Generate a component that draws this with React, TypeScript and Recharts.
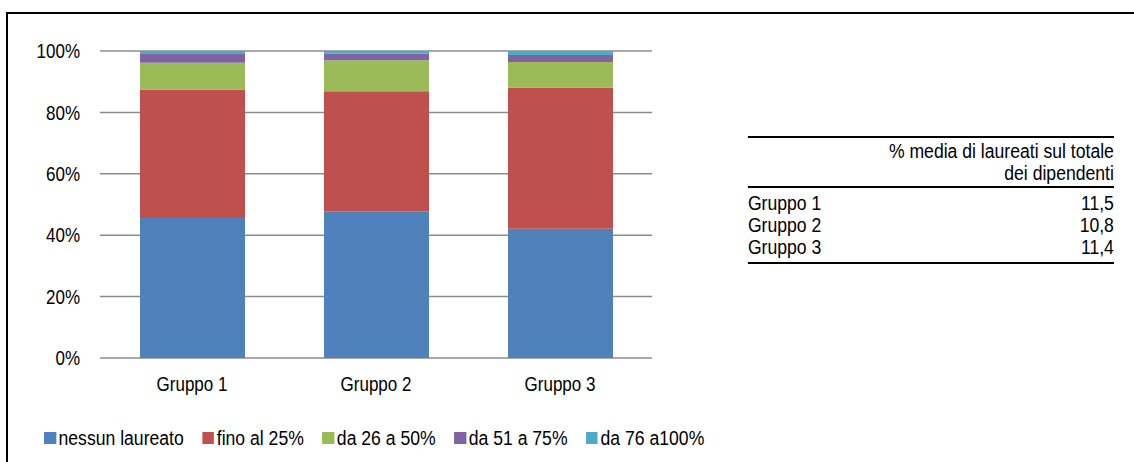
import React from 'react';
import { BarChart, Bar, XAxis, YAxis, CartesianGrid } from 'recharts';

const categories = ['Gruppo 1', 'Gruppo 2', 'Gruppo 3'];
const nessunLaureato = [45.6, 47.8, 42.1];
const finoAl25 = [41.9, 39.1, 45.9];
const da26a50 = [8.7, 10.1, 8.4];
const da51a75 = [3.1, 2.1, 2.3];
const da76a100 = [0.7, 0.9, 1.3];
const yTicks = [0, 20, 40, 60, 80, 100];

const seriesNames = ['nessun laureato', 'fino al 25%', 'da 26 a 50%', 'da 51 a 75%', 'da 76 a100%'];
const seriesKeys = ['s1', 's2', 's3', 's4', 's5'];
const seriesColors = ['#4F81BD', '#C0504D', '#9BBB59', '#8064A2', '#4BACC6'];

const tableHeader = ['% media di laureati sul totale', 'dei dipendenti'];
const tableValues = ['11,5', '10,8', '11,4'];

const data = categories.map((c, i) => ({
  name: c,
  s1: nessunLaureato[i],
  s2: finoAl25[i],
  s3: da26a50[i],
  s4: da51a75[i],
  s5: da76a100[i],
}));

const FONT = '"Liberation Sans", Arial, sans-serif';
const SX = 0.85;
const SX2 = 0.88;

const YTick = (props: any) => {
  const { x, y, payload } = props;
  return (
    <text
      x={0}
      y={0}
      transform={`translate(${x},${y}) scale(${SX},1)`}
      textAnchor="end"
      dy="0.355em"
      fill="#000"
      fontSize={20}
      fontFamily={FONT}
    >
      {`${payload.value}%`}
    </text>
  );
};

const XTick = (props: any) => {
  const { x, y, payload } = props;
  return (
    <text
      x={0}
      y={0}
      transform={`translate(${x},${y}) scale(${SX},1)`}
      textAnchor="middle"
      dy="0.71em"
      fill="#000"
      fontSize={20}
      fontFamily={FONT}
    >
      {payload.value}
    </text>
  );
};

export default function App() {
  return (
    <div
      style={{
        position: 'absolute',
        left: 0,
        top: 0,
        width: 1134,
        height: 462,
        overflow: 'hidden',
        background: '#fff',
        fontFamily: FONT,
        color: '#000',
      }}
    >
      <div
        style={{
          position: 'absolute',
          left: 6,
          top: 12,
          width: 1200,
          height: 500,
          borderLeft: '2px solid #000',
          borderTop: '2px solid #000',
        }}
      />
      <div style={{ position: 'absolute', left: 0, top: 0 }}>
        <BarChart
          width={700}
          height={462}
          data={data}
          margin={{ top: 51, right: 48, left: 10, bottom: 74 }}
          barSize={105}
        >
          <CartesianGrid vertical={false} stroke="#8c8c8c" strokeWidth={1.5} />
          <XAxis
            dataKey="name"
            axisLine={false}
            tickLine={false}
            tickMargin={13}
            height={30}
            tick={<XTick />}
          />
          <YAxis
            domain={[0, 100]}
            ticks={yTicks}
            width={90}
            axisLine={false}
            tickLine={false}
            tickMargin={14}
            tick={<YTick />}
          />
          {seriesKeys.map((k, i) => (
            <Bar key={k} dataKey={k} stackId="a" fill={seriesColors[i]} isAnimationActive={false} />
          ))}
        </BarChart>
      </div>
      <div
        style={{
          position: 'absolute',
          left: 44,
          top: 427,
          display: 'flex',
          alignItems: 'center',
          fontSize: 20,
          lineHeight: '22px',
          whiteSpace: 'nowrap',
          transform: `scaleX(${SX2})`,
          transformOrigin: 'left center',
        }}
      >
        {seriesNames.map((n, i) => (
          <div key={n} style={{ display: 'flex', alignItems: 'center', marginRight: 21 }}>
            <span
              style={{
                display: 'inline-block',
                width: 13.5,
                height: 12,
                background: seriesColors[i],
                marginRight: 3,
              }}
            />
            <span>{n}</span>
          </div>
        ))}
      </div>
      <div
        style={{
          position: 'absolute',
          left: 1114 - 366 / SX2,
          top: 136,
          width: 366 / SX2,
          borderTop: '2px solid #000',
          borderBottom: '2px solid #000',
          fontSize: 20,
          lineHeight: '22px',
          transform: `scaleX(${SX2})`,
          transformOrigin: 'right center',
        }}
      >
        <div style={{ textAlign: 'right', borderBottom: '2px solid #000', padding: '2px 0 2px 0' }}>
          {tableHeader.map((h) => (
            <div key={h}>{h}</div>
          ))}
        </div>
        <div style={{ padding: '4px 0 4px 0' }}>
          {categories.map((c, i) => (
            <div key={c} style={{ display: 'flex', justifyContent: 'space-between' }}>
              <span>{c}</span>
              <span>{tableValues[i]}</span>
            </div>
          ))}
        </div>
      </div>
    </div>
  );
}
